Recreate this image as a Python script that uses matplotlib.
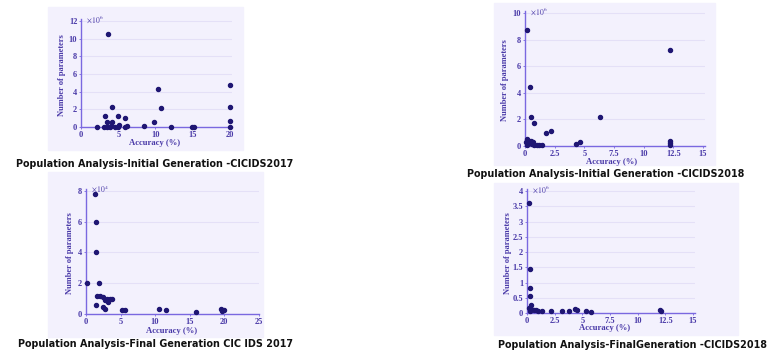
import matplotlib
matplotlib.use("Agg")
import matplotlib.pyplot as plt
from matplotlib.patches import Rectangle

W, H = 779, 355

# --- data ---
acc_init17 = [3.6, 10.3, 10.8, 20.0, 20.0, 20.0, 20.0, 4.2, 3.2, 4.9, 5.9, 3.5, 4.2, 9.8,
              2.2, 3.1, 3.5, 3.9, 4.6, 5.0, 5.9, 6.2, 8.4, 12.1, 14.9, 15.2, 4.0, 5.1]
par_init17 = [10.5, 4.3, 2.2, 4.8, 2.3, 0.7, 0.05, 2.3, 1.3, 1.3, 1.0, 0.6, 0.6, 0.6,
              0.05, 0.05, 0.05, 0.05, 0.05, 0.05, 0.05, 0.15, 0.15, 0.05, 0.05, 0.05, 0.15, 0.2]

acc_init18 = [0.2, 0.4, 0.5, 0.75, 1.75, 2.15, 6.3, 12.2, 12.2, 12.2, 12.2, 4.3, 4.6,
              0.2, 0.3, 0.5, 0.4, 0.6, 0.8, 1.0, 1.2, 1.4, 0.2, 0.1, 0.7]
par_init18 = [8.7, 4.4, 2.2, 1.7, 1.0, 1.15, 2.2, 7.2, 0.4, 0.25, 0.1, 0.15, 0.3,
              0.5, 0.4, 0.35, 0.2, 0.15, 0.1, 0.1, 0.05, 0.05, 0.1, 0.3, 0.3]

acc_fin17 = [1.3, 1.4, 1.5, 0.1, 1.9, 1.6, 2.0, 2.5, 3.0, 3.5, 3.8, 3.2, 2.8, 1.5, 2.4, 2.8,
             5.2, 5.7, 10.6, 11.6, 16.0, 19.6, 20.0, 19.7]
par_fin17 = [7.8, 6.0, 4.0, 2.0, 2.0, 1.2, 1.2, 1.1, 1.0, 1.0, 1.0, 0.8, 0.9, 0.6, 0.45, 0.35,
             0.25, 0.25, 0.3, 0.25, 0.15, 0.3, 0.25, 0.2]

acc_fin18 = [0.2, 0.3, 0.3, 0.25, 0.4, 0.2, 0.4, 0.6, 0.8, 1.0, 0.3, 1.4, 2.2, 3.2, 3.8,
             4.3, 4.5, 5.3, 5.8, 12.0, 12.1]
par_fin18 = [3.6, 1.45, 0.83, 0.55, 0.27, 0.15, 0.12, 0.1, 0.1, 0.08, 0.05, 0.05, 0.08, 0.08, 0.08,
             0.12, 0.1, 0.08, 0.04, 0.1, 0.05]

titles = ["Population Analysis-Initial Generation -CICIDS2017",
          "Population Analysis-Initial Generation -CICIDS2018",
          "Population Analysis-Final Generation CIC IDS 2017",
          "Population Analysis-FinalGeneration -CICIDS2018"]

xticks_all = [[0, 5, 10, 15, 20], [0, 2.5, 5, 7.5, 10, 12.5, 15],
              [0, 5, 10, 15, 20, 25], [0, 2.5, 5, 7.5, 10, 12.5, 15]]
yticks_all = [[0, 2, 4, 6, 8, 10, 12], [0, 2, 4, 6, 8, 10],
              [0, 2, 4, 6, 8], [0, 0.5, 1, 1.5, 2, 2.5, 3, 3.5, 4]]
exps = ["6", "6", "4", "6"]

# --- layout in pixels ---
panels = [
    dict(bg=(48, 7, 243, 150), ax=(81, 19, 232, 127), xmax=20.27, ymax=12.23,
         ylab=(62, 75), xlab=(155, 143), title=(155, 164)),
    dict(bg=(494, 3, 715, 165), ax=(525, 11, 705, 146), xmax=15.17, ymax=10.15,
         ylab=(505, 80), xlab=(612, 162), title=(606, 174)),
    dict(bg=(48, 172, 263, 337), ax=(86, 189, 259, 314), xmax=25.07, ymax=8.12,
         ylab=(70, 253), xlab=(172, 331), title=(156, 344)),
    dict(bg=(494, 183, 738, 335), ax=(527, 189, 695, 313), xmax=15.18, ymax=4.07,
         ylab=(508, 253), xlab=(605, 328), title=(633, 345)),
]
data = [(acc_init17, par_init17), (acc_init18, par_init18),
        (acc_fin17, par_fin17), (acc_fin18, par_fin18)]

bg_col = "#f3f1fd"
spine_col = "#7a68e0"
txt_col = "#4a3aa8"
dot_col = "#1f1673"
grid_col = "#e4e0f7"

plt.rcParams["mathtext.fontset"] = "stix"
fig = plt.figure(figsize=(W / 100, H / 100), dpi=100)

def fx(px):
    return px / W

def fy(py):
    return 1 - py / H

for i, p in enumerate(panels):
    x0, y0, x1, y1 = p["bg"]
    fig.patches.append(Rectangle((fx(x0), fy(y1)), fx(x1 - x0), (y1 - y0) / H,
                                 transform=fig.transFigure, color=bg_col, zorder=-5))
    l, t, r, b = p["ax"]
    ax = fig.add_axes([fx(l), fy(b), fx(r - l), (b - t) / H])
    ax.set_facecolor("none")
    acc, par = data[i]
    ax.plot(acc, par, "o", color=dot_col, ms=2.9, clip_on=False, zorder=3)
    ax.set_xlim(0, p["xmax"])
    ax.set_ylim(0, p["ymax"])
    ax.set_xticks(xticks_all[i])
    ax.set_yticks(yticks_all[i])
    ax.set_xticklabels([f"{v:g}" for v in xticks_all[i]])
    ax.set_yticklabels([f"{v:g}" for v in yticks_all[i]])
    for s in ["top", "right"]:
        ax.spines[s].set_visible(False)
    for s in ["left", "bottom"]:
        ax.spines[s].set_color(spine_col)
        ax.spines[s].set_linewidth(1.0)
    ax.grid(axis="y", color=grid_col, lw=0.8)
    ax.set_axisbelow(True)
    ax.tick_params(length=1.5, width=0.6, color=spine_col, pad=1.2, labelsize=6,
                   labelcolor=txt_col)
    for lab in ax.get_xticklabels() + ax.get_yticklabels():
        lab.set_family("Liberation Serif")
        lab.set_fontweight("bold")
    ax.text(0.03, 1.0, r"$\times\,10^{%s}$" % exps[i], transform=ax.transAxes,
            fontsize=5.5, color=txt_col, va="center", ha="left")
    fig.text(fx(p["ylab"][0]), fy(p["ylab"][1]), "Number of parameters", rotation=90,
             ha="center", va="center", fontsize=6, color=txt_col,
             family="Liberation Serif", fontweight="bold")
    fig.text(fx(p["xlab"][0]), fy(p["xlab"][1]), "Accuracy (%)",
             ha="center", va="center", fontsize=6.2, color=txt_col,
             family="Liberation Serif", fontweight="bold")
    fig.text(fx(p["title"][0]), fy(p["title"][1]), titles[i], ha="center", va="center",
             fontsize=6.9, color="#111111", family="DejaVu Sans", fontweight="bold")

fig.savefig("out.png", dpi=100, facecolor="white")
